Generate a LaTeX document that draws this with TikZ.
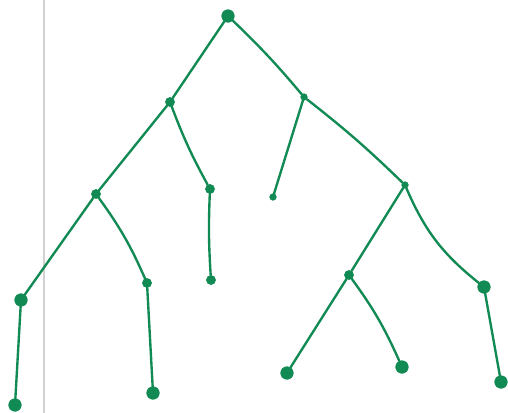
\documentclass[tikz,border=0pt]{standalone}
\usepackage{xcolor}
\usepackage{tikz}
\usetikzlibrary{positioning}
\definecolor{inkgreen}{RGB}{18,138,84}

\begin{document}
\begin{tikzpicture}[x=0.02cm, y=-0.02cm,
        vertex/.style   = {circle, fill=inkgreen, draw=inkgreen, inner sep=0pt, minimum size=0.18cm},
        bigvertex/.style= {vertex, minimum size=0.25cm},
        dotvertex/.style= {vertex, minimum size=0.13cm},
        edge/.style     = {draw=inkgreen, line width=1.35pt, line cap=round},
        margin/.style   = {draw=gray!35, line width=0.9pt}
    ]
    \useasboundingbox (0,0) rectangle (508,413);

    % --- paper margin ---
    \draw[margin] (44,0) -- (44,413);

    % --- NODES ---
    \node[bigvertex] (root) at (228, 16) {};

    \node[vertex]    (a)    at (170,102) {};
    \node[dotvertex] (b)    at (304, 97) {};

    \node[vertex]    (c)    at ( 96,194) {};
    \node[vertex]    (d)    at (210,189) {};
    \node[dotvertex] (e)    at (273,197) {};
    \node[dotvertex] (f)    at (405,185) {};

    \node[bigvertex] (g)    at ( 21,300) {};
    \node[vertex]    (h)    at (147,283) {};
    \node[vertex]    (i)    at (211,280) {};
    \node[vertex]    (j)    at (349,275) {};
    \node[bigvertex] (k)    at (484,287) {};

    \node[bigvertex] (l)    at ( 15,405) {};
    \node[bigvertex] (m)    at (153,393) {};
    \node[bigvertex] (n)    at (287,373) {};
    \node[bigvertex] (o)    at (402,367) {};
    \node[bigvertex] (p)    at (501,382) {};

    % --- EDGES ---
    \draw[edge] (root) -- (a);
    \draw[edge] (root) to[bend left=3] (b);

    \draw[edge] (a) -- (c);
    \draw[edge] (a) to[bend right=4] (d);
    \draw[edge] (b) -- (e);
    \draw[edge] (b) to[bend left=3] (f);

    \draw[edge] (c) -- (g);
    \draw[edge] (c) to[bend left=6] (h);
    \draw[edge] (d) to[bend right=3] (i);
    \draw[edge] (f) -- (j);
    \draw[edge] (f) to[bend right=14] (k);

    \draw[edge] (g) -- (l);
    \draw[edge] (h) -- (m);
    \draw[edge] (j) -- (n);
    \draw[edge] (j) to[bend left=6] (o);
    \draw[edge] (k) -- (p);

\end{tikzpicture}
\end{document}
